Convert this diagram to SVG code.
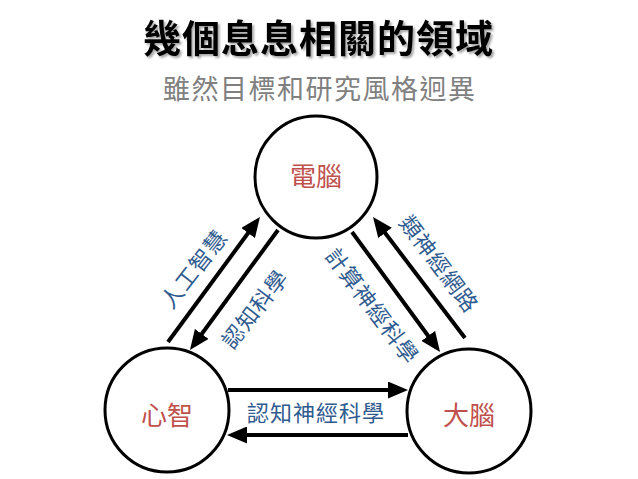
<svg xmlns="http://www.w3.org/2000/svg" width="638" height="479" viewBox="0 0 638 479">
<style>
.node circle{fill:#fff;stroke:#000;stroke-width:3}
.nt{font-family:"Noto Sans CJK TC","Noto Sans CJK SC",sans-serif;font-size:26px;fill:#c0504d;text-anchor:middle}
.lbl{font-family:"Noto Sans CJK TC","Noto Sans CJK SC",sans-serif;font-size:22px;fill:#2f5b8f;text-anchor:middle;letter-spacing:1px}
.arr{stroke:#000;stroke-width:4;fill:none;marker-end:url(#ah)}
</style>
<defs>
<marker id="ah" markerUnits="userSpaceOnUse" markerWidth="20" markerHeight="17" refX="14" refY="8.5" orient="auto">
<path d="M0,0 L20,8.5 L0,17 z" fill="#000"/>
</marker>
<filter id="sh" x="-5%" y="-20%" width="110%" height="150%">
<feDropShadow dx="2" dy="2" stdDeviation="1.3" flood-color="#000" flood-opacity="0.35"/>
</filter>
</defs>
<rect width="638" height="479" fill="#fff"/>
<text x="143" y="52" font-family="'Noto Sans CJK TC','Noto Sans CJK SC',sans-serif" font-size="38" font-weight="bold" letter-spacing="1" fill="#000" filter="url(#sh)">幾個息息相關的領域</text>
<text x="163" y="99" font-family="'Noto Sans CJK TC','Noto Sans CJK SC',sans-serif" font-size="27" letter-spacing="1.5" fill="#808080">雖然目標和研究風格迥異</text>
<g id="connectors">
<line class="arr" x1="168" y1="342" x2="256.4" y2="221.8"/>
<line class="arr" x1="278" y1="230" x2="193.5" y2="345.2"/>
<line class="arr" x1="352" y1="232" x2="436.5" y2="347.2"/>
<line class="arr" x1="465" y1="338" x2="376.6" y2="221.8"/>
<line class="arr" x1="228" y1="390" x2="402" y2="390"/>
<line class="arr" x1="408" y1="435" x2="233" y2="435"/>
<text class="lbl" transform="translate(194,269) rotate(-52)" y="8">人工智慧</text>
<text class="lbl" transform="translate(255,309) rotate(-52)" y="8">認知科學</text>
<text class="lbl" transform="translate(372,306) rotate(53)" y="8">計算神經科學</text>
<text class="lbl" transform="translate(439,264) rotate(53)" y="8">類神經網路</text>
<text class="lbl" x="316" y="421">認知神經科學</text>
</g>
<g id="node-computer" class="node">
<circle cx="316" cy="177" r="61"/>
<text class="nt" x="316" y="186">電腦</text>
</g>
<g id="node-mind" class="node">
<circle cx="167" cy="410" r="62"/>
<text class="nt" x="167" y="425">心智</text>
</g>
<g id="node-brain" class="node">
<circle cx="469" cy="411" r="62"/>
<text class="nt" x="469" y="425">大腦</text>
</g>
</svg>
